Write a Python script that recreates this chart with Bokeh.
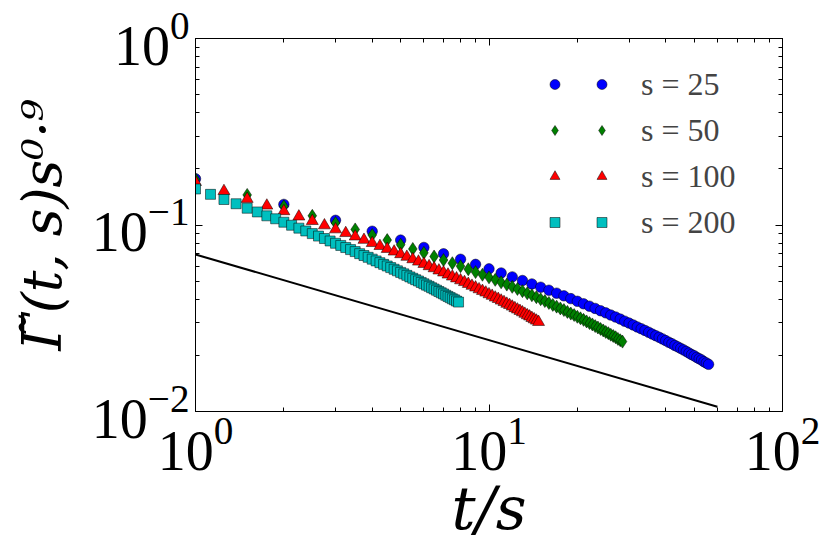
import numpy as np
from bokeh.plotting import figure
from bokeh.models import (FixedTicker, LogTickFormatter, LogAxis, Legend,
                          LegendItem, CustomJSTickFormatter, Range1d)
from bokeh.embed import file_html
from bokeh.resources import INLINE
from bokeh.core.properties import value

# ---------------- data ----------------
s_values = [25, 50, 100, 200]
n_points = 56
t_step = 25

gamma_s25 = [0.177, 0.129, 0.106, 0.0926, 0.0830, 0.0758, 0.0701, 0.0655, 0.0615, 0.0582,
             0.0553, 0.0527, 0.0504, 0.0483, 0.0464, 0.0447, 0.0431, 0.0417, 0.0403, 0.0390,
             0.0378, 0.0367, 0.0357, 0.0347, 0.0338, 0.0329, 0.0321, 0.0313, 0.0305, 0.0298,
             0.0291, 0.0284, 0.0278, 0.0272, 0.0266, 0.0260, 0.0255, 0.0250, 0.0245, 0.0240,
             0.0235, 0.0231, 0.0226, 0.0222, 0.0218, 0.0214, 0.0210, 0.0206, 0.0202, 0.0199,
             0.0195, 0.0192, 0.0189, 0.0185, 0.0182, 0.0179]
gamma_s50 = [0.176, 0.145, 0.126, 0.112, 0.1025, 0.0947, 0.0884, 0.0830, 0.0784, 0.0744,
             0.0709, 0.0678, 0.0649, 0.0624, 0.0601, 0.0579, 0.0559, 0.0541, 0.0524, 0.0508,
             0.0493, 0.0479, 0.0466, 0.0454, 0.0442, 0.0430, 0.0420, 0.0410, 0.0400, 0.0391,
             0.0382, 0.0373, 0.0365, 0.0357, 0.0350, 0.0342, 0.0335, 0.0329, 0.0322, 0.0316,
             0.0310, 0.0304, 0.0298, 0.0293, 0.0287, 0.0282, 0.0277, 0.0272, 0.0267, 0.0263,
             0.0258, 0.0254, 0.0250, 0.0245, 0.0241, 0.0237]
gamma_s100 = [0.170, 0.152, 0.138, 0.127, 0.1185, 0.111, 0.105, 0.0995, 0.0947, 0.0905,
              0.0867, 0.0832, 0.0800, 0.0771, 0.0744, 0.0720, 0.0697, 0.0675, 0.0655, 0.0636,
              0.0618, 0.0601, 0.0586, 0.0570, 0.0556, 0.0542, 0.0529, 0.0517, 0.0505, 0.0494,
              0.0483, 0.0472, 0.0462, 0.0452, 0.0443, 0.0434, 0.0425, 0.0417, 0.0408, 0.0401,
              0.0393, 0.0386, 0.0378, 0.0372, 0.0365, 0.0358, 0.0352, 0.0346, 0.0340, 0.0334,
              0.0328, 0.0323, 0.0317, 0.0312, 0.0307, 0.0302]
gamma_s200 = [0.156, 0.146, 0.137, 0.130, 0.123, 0.1175, 0.112, 0.108, 0.1035, 0.0997,
              0.0962, 0.0929, 0.0899, 0.0872, 0.0846, 0.0821, 0.0798, 0.0777, 0.0757, 0.0738,
              0.0720, 0.0702, 0.0686, 0.0671, 0.0656, 0.0642, 0.0628, 0.0615, 0.0603, 0.0591,
              0.0579, 0.0568, 0.0557, 0.0547, 0.0537, 0.0527, 0.0518, 0.0509, 0.0501, 0.0492,
              0.0484, 0.0476, 0.0469, 0.0461, 0.0454, 0.0447, 0.0440, 0.0433, 0.0427, 0.0420,
              0.0414, 0.0408, 0.0402, 0.0397, 0.0391, 0.0386]
series_values = [gamma_s25, gamma_s50, gamma_s100, gamma_s200]

ref_x = [1, 60]
ref_y = [0.0695, 0.0106]

x_major_ticks = [1, 10, 100]
x_minor_ticks = [2, 3, 4, 5, 6, 7, 8, 9, 20, 30, 40, 50, 60, 70, 80, 90]
y_major_ticks = [0.01, 0.1, 1]
y_minor_ticks = [0.02, 0.03, 0.04, 0.05, 0.06, 0.07, 0.08, 0.09,
                 0.2, 0.3, 0.4, 0.5, 0.6, 0.7, 0.8, 0.9]

legend_labels = ["s = 25", "s = 50", "s = 100", "s = 200"]
x_title = "t/s"
y_title = "\u0393\u0303(t, s)s\u2070\u00b7\u2079"

# ---------------- styles ----------------
colors = ["#0000ff", "#008000", "#ff0000", "#00bfbf"]
markers = ["circle", "diamond", "triangle", "square"]
sizes = [10.5, 13, 12, 10]
SERIF = "Liberation Serif"
TITLE_FONT = "DejaVu Serif"

p = figure(width=830, height=554, x_axis_type="log", y_axis_type="log",
           x_range=Range1d(1, 100), y_range=Range1d(0.01, 1),
           output_backend="svg", toolbar_location=None,
           min_border_left=195, min_border_right=48,
           min_border_top=38, min_border_bottom=143)
p.xgrid.visible = False
p.ygrid.visible = False
p.outline_line_color = "black"
p.outline_line_width = 1
p.background_fill_color = "white"
p.border_fill_color = "white"

xticker = FixedTicker(ticks=x_major_ticks, minor_ticks=x_minor_ticks)
yticker = FixedTicker(ticks=y_major_ticks, minor_ticks=y_minor_ticks)

def style_axis(ax):
    ax.major_tick_in = 7
    ax.major_tick_out = 0
    ax.minor_tick_in = 4
    ax.minor_tick_out = 0
    ax.axis_line_color = "black"
    ax.major_tick_line_color = "black"
    ax.minor_tick_line_color = "black"

xax = p.xaxis[0]
yax = p.yaxis[0]
xax.ticker = xticker
yax.ticker = yticker
xax.formatter = LogTickFormatter()
yax.formatter = LogTickFormatter()
for ax in (xax, yax):
    style_axis(ax)
    ax.major_label_text_font = SERIF
    ax.major_label_text_font_size = "56px"
    ax.major_label_text_color = "black"
    ax.major_label_standoff = 6
    ax.axis_label_text_font = TITLE_FONT
    ax.axis_label_text_font_style = "italic"
    ax.axis_label_text_color = "black"

xax.axis_label = x_title
xax.axis_label_text_font_size = "60px"
xax.axis_label_standoff = 0
yax.axis_label = y_title
yax.axis_label_text_font_size = "54px"
yax.axis_label_standoff = 15

top_axis = LogAxis(ticker=xticker, formatter=CustomJSTickFormatter(code="return ''"))
right_axis = LogAxis(ticker=yticker, formatter=CustomJSTickFormatter(code="return ''"))
style_axis(top_axis)
style_axis(right_axis)
p.add_layout(top_axis, "above")
p.add_layout(right_axis, "right")

# reference power-law line
p.line(ref_x, ref_y, line_color="black", line_width=2)

renderers = []
for s, vals, c, m, sz in zip(s_values, series_values, colors, markers, sizes):
    t = s + t_step * np.arange(n_points)
    tau = t / s
    r = p.scatter(tau, vals, marker=m, size=sz, fill_color=c,
                  line_color="black", line_width=0.5)
    renderers.append(r)

# legend: two markers per entry (glyph-only legend + labelled legend)
common = dict(glyph_width=25, glyph_height=46, label_height=46, spacing=0,
              padding=0, margin=0, border_line_color=None,
              background_fill_alpha=0, label_text_font=SERIF,
              label_text_font_size="32px")
legend_a = Legend(items=[LegendItem(label=value(""), renderers=[r]) for r in renderers],
                  location=(347, 166), **common)
legend_b = Legend(items=[LegendItem(label=lab, renderers=[r])
                         for lab, r in zip(legend_labels, renderers)],
                  location=(394, 166), label_standoff=27, **common)
p.add_layout(legend_a)
p.add_layout(legend_b)

open("out.html", "w").write(file_html(p, INLINE))
